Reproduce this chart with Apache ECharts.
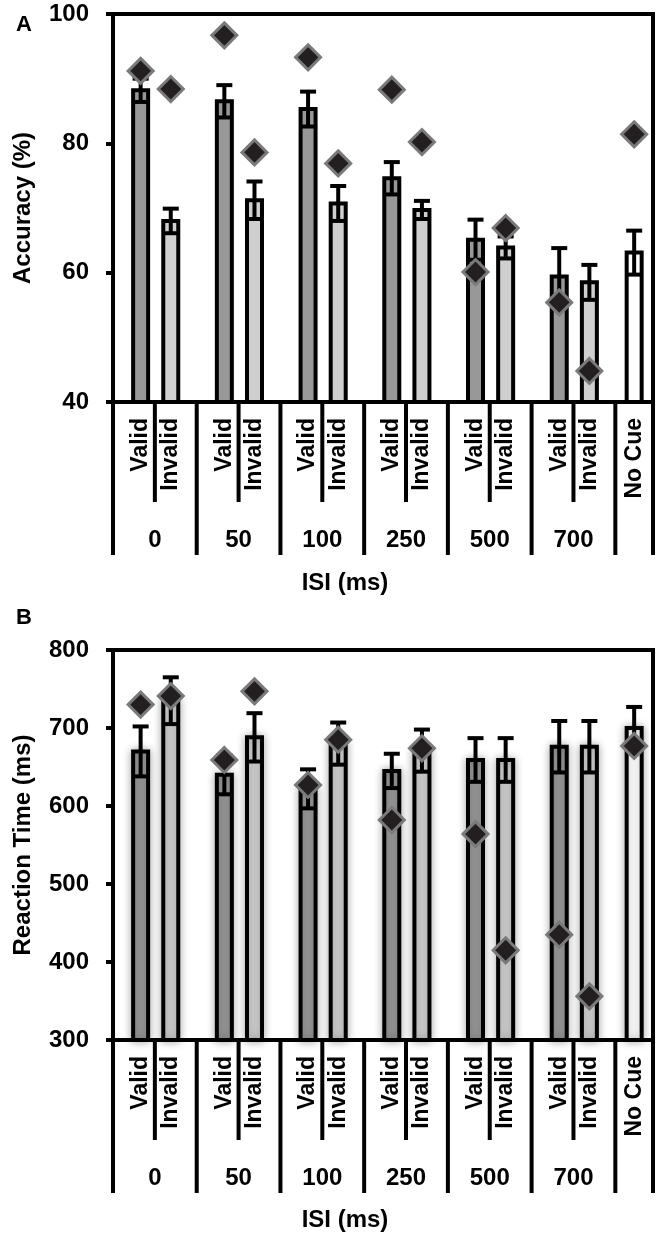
<!DOCTYPE html>
<html>
<head>
<meta charset="utf-8">
<script src="https://cdn.jsdelivr.net/npm/echarts@6.0.0/dist/echarts.min.js"></script>
<style>
  html, body { margin: 0; padding: 0; background: #fff; }
  #chart { width: 661px; height: 1234px; }
</style>
</head>
<body>
<div id="chart"></div>
<script>
const FONT = '"Liberation Sans Narrow", "Arial Narrow", "Liberation Sans", Arial, sans-serif';

const groups = ['0', '50', '100', '250', '500', '700'];
const cueLabels = ['Valid', 'Invalid'];
const noCueLabel = 'No Cue';
const xName = 'ISI (ms)';

// Panel A - accuracy (%), bars = group mean, err = SE, points = single case
const accValid = [88.2, 86.5, 85.3, 74.6, 65.1, 59.4];
const accValidErr = [1.8, 2.5, 2.7, 2.5, 3.1, 4.4];
const accInvalid = [68.0, 71.2, 70.7, 69.7, 63.9, 58.5];
const accInvalidErr = [1.9, 2.9, 2.7, 1.4, 1.7, 2.7];
const accNoCue = [63.1];
const accNoCueErr = [3.4];
const accValidPt = [91.2, 96.7, 93.3, 88.3, 60.1, 55.4];
const accInvalidPt = [88.4, 78.6, 76.9, 80.2, 66.9, 44.8];
const accNoCuePt = [81.4];

// Panel B - reaction time (ms)
const rtValid = [670, 640, 622, 645, 659, 676];
const rtValidErr = [32, 25, 25, 22, 28, 33];
const rtInvalid = [735, 688, 680, 671, 659, 676];
const rtInvalidErr = [30, 31, 27, 27, 28, 33];
const rtNoCue = [700];
const rtNoCueErr = [27];
const rtValidPt = [730, 659, 627, 582, 564, 435];
const rtInvalidPt = [741, 747, 685, 674, 415, 356];
const rtNoCuePt = [677];

// x layout in "group" units: each ISI group is 1 wide, No Cue is narrower
const VALID_OFF = 0.33;
const INVALID_OFF = 0.69;
const NOCUE_W = 0.45;
const X_MAX = groups.length + NOCUE_W;
const NOCUE_X = groups.length + NOCUE_W / 2;

const VALID_COLOR = '#989898';
const INVALID_COLOR = '#cfcfcf';
const NOCUE_COLOR = '#ffffff';

const chart = echarts.init(document.getElementById('chart'));

function withX(vals, off) {
  return vals.map((v, i) => [i + off, v]);
}
function withXErr(vals, errs, off) {
  return vals.map((v, i) => [i + off, v, errs[i]]);
}

function barRenderer(yMin, shadow) {
  return function (params, api) {
    const top = api.coord([api.value(0), api.value(1)]);
    const base = api.coord([api.value(0), yMin]);
    const w = 15;
    const style = { fill: api.visual('color'), stroke: '#000', lineWidth: 4 };
    if (shadow) {
      style.shadowBlur = 8;
      style.shadowColor = 'rgba(0,0,0,0.3)';
    }
    return {
      type: 'rect',
      shape: { x: top[0] - w / 2, y: top[1], width: w, height: base[1] - top[1] },
      style,
    };
  };
}

function errRenderer(params, api) {
  const x = api.value(0), m = api.value(1), e = api.value(2);
  const hi = api.coord([x, m + e]);
  const lo = api.coord([x, m - e]);
  const cap = 8;
  const st = { stroke: '#000', lineWidth: 4 };
  return {
    type: 'group',
    children: [
      { type: 'line', shape: { x1: hi[0], y1: hi[1], x2: lo[0], y2: lo[1] }, style: st },
      { type: 'line', shape: { x1: hi[0] - cap, y1: hi[1], x2: hi[0] + cap, y2: hi[1] }, style: st },
      { type: 'line', shape: { x1: lo[0] - cap, y1: lo[1], x2: lo[0] + cap, y2: lo[1] }, style: st },
    ],
  };
}

function decoRenderer(yMin) {
  return function (params, api) {
    const start = api.value(0), width = api.value(1), k = api.value(2);
    const p0 = api.coord([start, yMin]);
    const y0 = p0[1];
    const st = { stroke: '#000', lineWidth: 4 };
    const line = (x, y1, y2) => ({ type: 'line', shape: { x1: x, y1, x2: x, y2 }, style: st });
    const vLabel = (x, text) => ({
      type: 'text', x, y: y0 + 16, rotation: Math.PI / 2,
      style: { text, align: 'right', verticalAlign: 'middle', font: 'bold 23px ' + FONT, fill: '#000' },
    });
    const children = [line(p0[0], y0, y0 + 153)];
    if (k >= 0) {
      const mid = api.coord([start + 0.5, yMin])[0];
      children.push(line(mid, y0, y0 + 100));
      children.push(vLabel(api.coord([start + VALID_OFF, yMin])[0], cueLabels[0]));
      children.push(vLabel(api.coord([start + INVALID_OFF, yMin])[0], cueLabels[1]));
      children.push({
        type: 'text', x: mid, y: y0 + 138,
        style: { text: groups[k], align: 'center', verticalAlign: 'middle', font: 'bold 24px ' + FONT, fill: '#000' },
      });
    } else {
      const end = api.coord([start + width, yMin])[0];
      children.push(line(end, y0, y0 + 153));
      children.push(vLabel(api.coord([start + width / 2, yMin])[0], noCueLabel));
    }
    return { type: 'group', children };
  };
}

const decoData = groups.map((g, i) => [i, 1, i]).concat([[groups.length, NOCUE_W, -1]]);

function panelSeries(idx, yMin, shadow, d) {
  const base = { xAxisIndex: idx, yAxisIndex: idx };
  const bars = [
    { data: withX(d.valid, VALID_OFF), color: VALID_COLOR },
    { data: withX(d.invalid, INVALID_OFF), color: INVALID_COLOR },
    { data: [[NOCUE_X, d.noCue[0]]], color: NOCUE_COLOR },
  ].map(b => ({
    ...base, type: 'custom', renderItem: barRenderer(yMin, shadow), data: b.data,
    itemStyle: { color: b.color }, z: 2, silent: true,
  }));
  const errs = {
    ...base, type: 'custom', renderItem: errRenderer, z: 3, silent: true,
    data: withXErr(d.valid, d.validErr, VALID_OFF)
      .concat(withXErr(d.invalid, d.invalidErr, INVALID_OFF))
      .concat([[NOCUE_X, d.noCue[0], d.noCueErr[0]]]),
  };
  const pts = {
    ...base, type: 'scatter', symbol: 'diamond', symbolSize: 25, z: 4, silent: true,
    itemStyle: { color: '#231f20', borderColor: '#7a7a7a', borderWidth: 3, opacity: 1 },
    data: withX(d.validPt, VALID_OFF)
      .concat(withX(d.invalidPt, INVALID_OFF))
      .concat([[NOCUE_X, d.noCuePt[0]]]),
  };
  const deco = {
    ...base, type: 'custom', renderItem: decoRenderer(yMin), clip: false, z: 5, silent: true,
    data: decoData,
  };
  return bars.concat([errs, pts, deco]);
}

function yAxis(idx, min, max, interval, name) {
  return {
    gridIndex: idx, type: 'value', min, max, interval,
    name, nameLocation: 'middle', nameGap: 78,
    nameTextStyle: { fontFamily: FONT, fontWeight: 'bold', fontSize: 24, color: '#000' },
    axisLine: { show: true, lineStyle: { color: '#000', width: 4 } },
    axisTick: { show: true, length: 7, lineStyle: { color: '#000', width: 4 } },
    axisLabel: { margin: 24, fontFamily: FONT, fontWeight: 'bold', fontSize: 24, color: '#000' },
    splitLine: { show: false },
  };
}

function xAxis(idx) {
  return {
    gridIndex: idx, type: 'value', min: 0, max: X_MAX,
    axisLine: { show: true, onZero: false, lineStyle: { color: '#000', width: 4 } },
    axisTick: { show: false }, axisLabel: { show: false }, splitLine: { show: false },
  };
}

const titleFont = { fontFamily: FONT, fontWeight: 'bold', fontSize: 24, color: '#000' };
const panelFont = { fontFamily: '"Liberation Sans", Arial, sans-serif', fontWeight: 'bold', fontSize: 22, color: '#000' };

chart.setOption({
  animation: false,
  backgroundColor: '#fff',
  title: [
    { text: 'A', left: 11, top: 9, textStyle: panelFont },
    { text: 'B', left: 11, top: 602, textStyle: panelFont },
    { text: xName, left: 340, top: 566, textAlign: 'center', textStyle: titleFont },
    { text: xName, left: 340, top: 1203, textAlign: 'center', textStyle: titleFont },
  ],
  grid: [
    { left: 113, width: 540, top: 14, height: 388, show: true, borderColor: '#000', borderWidth: 4 },
    { left: 113, width: 540, top: 650, height: 390, show: true, borderColor: '#000', borderWidth: 4 },
  ],
  xAxis: [xAxis(0), xAxis(1)],
  yAxis: [
    yAxis(0, 40, 100, 20, 'Accuracy (%)'),
    yAxis(1, 300, 800, 100, 'Reaction Time (ms)'),
  ],
  series: panelSeries(0, 40, false, {
    valid: accValid, validErr: accValidErr, invalid: accInvalid, invalidErr: accInvalidErr,
    noCue: accNoCue, noCueErr: accNoCueErr,
    validPt: accValidPt, invalidPt: accInvalidPt, noCuePt: accNoCuePt,
  }).concat(panelSeries(1, 300, true, {
    valid: rtValid, validErr: rtValidErr, invalid: rtInvalid, invalidErr: rtInvalidErr,
    noCue: rtNoCue, noCueErr: rtNoCueErr,
    validPt: rtValidPt, invalidPt: rtInvalidPt, noCuePt: rtNoCuePt,
  })),
});
</script>
</body>
</html>
